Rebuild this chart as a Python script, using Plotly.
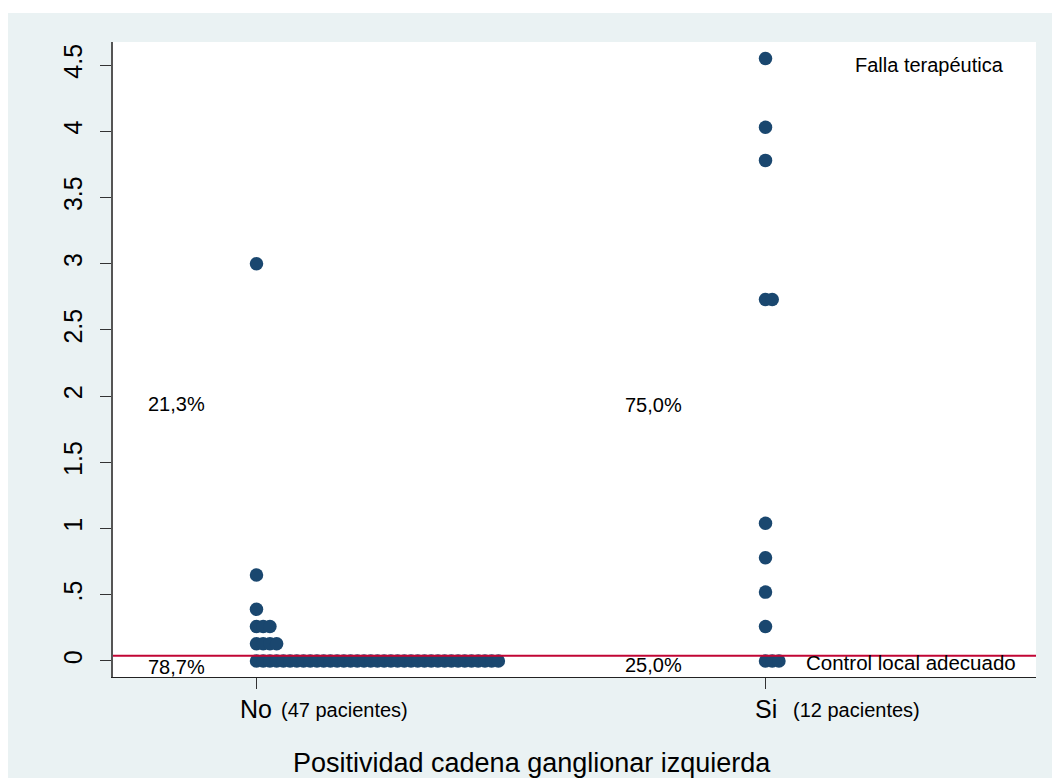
import plotly.graph_objects as go

# Tiempo hasta la falla por grupo (valor, número de pacientes con ese valor)
grupos = ["No", "Si"]
no_valores = [3.0, 0.65, 0.39, 0.26, 0.13, 0.0]
no_conteos = [1, 1, 1, 3, 4, 37]
si_valores = [4.55, 4.03, 3.78, 2.73, 1.04, 0.78, 0.52, 0.26, 0.0]
si_conteos = [1, 1, 1, 2, 1, 1, 1, 1, 3]

umbral = 0.04          # línea que separa control local de falla
y_ticks = [0, 0.5, 1, 1.5, 2, 2.5, 3, 3.5, 4, 4.5]
y_ticktext = ["0", ".5", "1", "1.5", "2", "2.5", "3", "3.5", "4", "4.5"]

NAVY = "#1A476F"
RED = "#C10534"
BG = "#EAF2F3"
FONT = "Liberation Sans, Arial, sans-serif"
STEP = 0.0132          # desplazamiento horizontal entre puntos empatados

fig = go.Figure()

datos = [(no_valores, no_conteos), (si_valores, si_conteos)]
for gi, (vals, cnts) in enumerate(datos):
    xs, ys = [], []
    for v, c in zip(vals, cnts):
        for k in range(c):
            xs.append(gi + k * STEP)
            ys.append(v)
    fig.add_trace(go.Scatter(
        x=xs, y=ys, mode="markers",
        marker=dict(color=NAVY, size=13.5, line=dict(width=0)),
        showlegend=False, hoverinfo="y",
    ))

# Línea de corte
fig.add_shape(type="line", xref="paper", yref="y", x0=0, x1=1,
              y0=umbral, y1=umbral, line=dict(color=RED, width=2))

# Franjas blancas alrededor del fondo del gráfico
W, H = 1052, 778
L, R, T, B = 113, 16, 42, 101
pw, ph = W - L - R, H - T - B
fig.add_shape(type="rect", xref="paper", yref="paper", layer="below",
              x0=-0.3, x1=1.2, y0=(H - B - 13) / ph, y1=1.3,
              line=dict(width=0), fillcolor="white")
fig.add_shape(type="rect", xref="paper", yref="paper", layer="below",
              x0=-0.3, x1=(8 - L) / pw, y0=-0.3, y1=1.3,
              line=dict(width=0), fillcolor="white")

anot = []
txt = dict(family=FONT, size=20, color="black")

# Porcentajes de falla / control en cada grupo
pos_pct = [(-0.158, 1.94, -0.158, -0.045), (0.78, 1.93, 0.779, -0.032)]
for gi, (vals, cnts) in enumerate(datos):
    total = sum(cnts)
    fallas = sum(c for v, c in zip(vals, cnts) if v > umbral)
    p_f = f"{100 * fallas / total:.1f}%".replace(".", ",")
    p_c = f"{100 * (total - fallas) / total:.1f}%".replace(".", ",")
    xf, yf, xc, yc = pos_pct[gi]
    anot.append(dict(x=xf, y=yf, xref="x", yref="y", text=p_f,
                     showarrow=False, font=txt))
    anot.append(dict(x=xc, y=yc, xref="x", yref="y", text=p_c,
                     showarrow=False, font=txt))
    # Etiquetas del eje x
    anot.append(dict(x=gi, y=-0.05, xref="x", yref="paper", text=grupos[gi],
                     showarrow=False, font=dict(family=FONT, size=25, color="black"),
                     xanchor="center", yanchor="middle"))
    anot.append(dict(x=gi + (0.044 if gi == 0 else 0.05), y=-0.052, xref="x",
                     yref="paper", text=f"({total} pacientes)", showarrow=False,
                     font=dict(family=FONT, size=20, color="black"),
                     xanchor="left", yanchor="middle"))

anot.append(dict(x=1.3212, y=4.5, xref="x", yref="y", text="Falla terapéutica",
                 showarrow=False, font=txt))
anot.append(dict(x=1.2868, y=-0.015, xref="x", yref="y",
                 text="Control local adecuado", showarrow=False,
                 font=dict(family=FONT, size=20.5, color="black")))
anot.append(dict(x=(532 - L) / pw, y=(H - B - 763) / ph, xref="paper",
                 yref="paper", text="Positividad cadena ganglionar izquierda",
                 showarrow=False, font=dict(family=FONT, size=27, color="black"),
                 xanchor="center", yanchor="middle"))

fig.update_layout(
    width=W, height=H,
    margin=dict(l=L, r=R, t=T, b=B, pad=0),
    paper_bgcolor=BG, plot_bgcolor="white",
    font=dict(family=FONT, color="black"),
    annotations=anot,
    xaxis=dict(range=[-0.2819, 1.5314], tickvals=[0, 1], ticktext=["", ""],
               ticks="outside", ticklen=11, tickcolor="#333", tickwidth=1.3,
               showline=True, linecolor="#222", linewidth=1.3,
               showgrid=False, zeroline=False, fixedrange=True),
    yaxis=dict(range=[-0.121, 4.674], tickvals=y_ticks, ticktext=y_ticktext,
               tickangle=-90, tickfont=dict(family=FONT, size=25, color="black"),
               ticks="outside", ticklen=11, tickcolor="#333", tickwidth=1.3,
               ticklabelstandoff=8,
               showline=True, linecolor="#555", linewidth=1.6,
               showgrid=False, zeroline=False, fixedrange=True),
)

fig.write_html("out.html")
